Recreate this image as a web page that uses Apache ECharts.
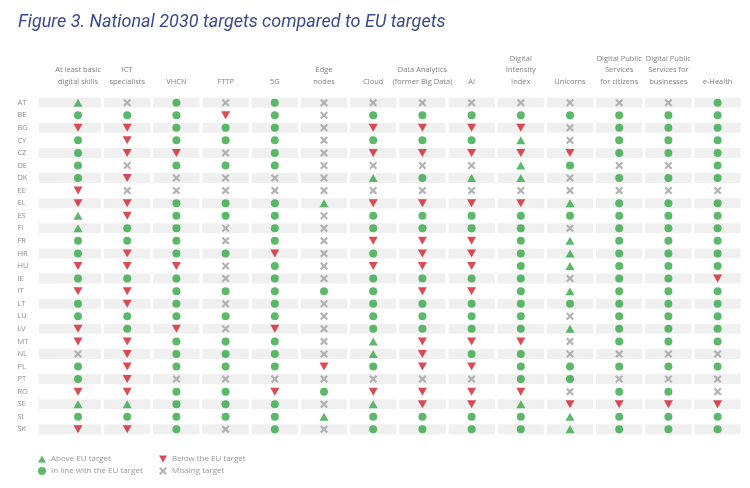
<!DOCTYPE html>
<html>
<head>
<meta charset="utf-8">
<script src="https://cdn.jsdelivr.net/npm/echarts@6/dist/echarts.min.js"></script>
<style>html,body{margin:0;padding:0;background:#fff}#c{width:750px;height:488px}</style>
</head>
<body>
<div id="c"></div>
<script>
// ---- data ----
const countries = ['AT','BE','BG','CY','CZ','DE','DK','EE','EL','ES','FI','FR','HR','HU','IE','IT','LT','LU','LV','MT','NL','PL','PT','RO','SE','SI','SK'];
const indicators = ['At least basic\ndigital skills','ICT\nspecialists','VHCN','FTTP','5G','Edge\nnodes','Cloud','Data Analytics\n(former Big Data)','AI','Digital\nIntensity\nIndex','Unicorns','Digital Public\nServices\nfor citizens','Digital Public\nServices for\nbusinesses','e-Health'];
// U = above EU target, C = in line, D = below, X = missing target (one string per country, one letter per indicator)
const statusRows = [
  'UXCXCXXXXXXXXC', // AT
  'CCCDCXCCCCCCCC', // BE
  'DDCCCXDDDDXCCC', // BG
  'CDCCCXCCCUXCCC', // CY
  'CDDXCXDDDDDCCC', // CZ
  'CXCCCXXXXUCXXC', // DE
  'CDXXXXUCUUXCCC', // DK
  'DXXXXXXXXXXXXX', // EE
  'DDCCCUDDDDUCCC', // EL
  'UDCCCXCCCCCCCC', // ES
  'UCCXCXCCCCXCCC', // FI
  'CCCXCXDDDCUCCC', // FR
  'CDCCDXCDDCUCCC', // HR
  'DDDXCXDDDCUCCC', // HU
  'CCCXCXCCCCXCCD', // IE
  'DDCCCCCDDCUCCC', // IT
  'CDCXCXCCCCCCCC', // LT
  'CCCCCXCCCCXCCC', // LU
  'DCDXDXCCCCUCCC', // LV
  'DDCCCXUDDDXCCC', // MT
  'XDCCCXUDCCXXXX', // NL
  'CDCCCDCDDCCCCC', // PL
  'CDXXXXXXXCCXXX', // PT
  'DDCCDCDDDDXCCX', // RO
  'UUCCCXUDDUDDDD', // SE
  'CCCCCUCCCCUCCC', // SI
  'DDCXCXCCCCUCCC'  // SK
];
const statusNames = { U: 'Above EU target', C: 'In line with the EU target', D: 'Below the EU target', X: 'Missing target' };

// ---- build series data ----
const pts = { U: [], C: [], D: [], X: [] };
statusRows.forEach((row, r) => {
  for (let c = 0; c < row.length; c++) pts[row[c]].push([c, r]);
});
const bands = [];
countries.forEach((_, r) => { if (r % 2 === 0) indicators.forEach((_, c) => bands.push([c, r])); });

const GREEN = '#35a845', RED = '#d21f2d', GREY = '#a0a0a0';
const UP = 'path://M5,0 L10,9 L0,9 Z';
const DOWN = 'path://M0,0 L10,0 L5,9 Z';
const CROSS = 'path://M0,1.9 L1.9,0 L5,3.1 L8.1,0 L10,1.9 L6.9,5 L10,8.1 L8.1,10 L5,6.9 L1.9,10 L0,8.1 L3.1,5 Z';

const chart = echarts.init(document.getElementById('c'), null, { renderer: 'canvas' });
const scatterBase = { type: 'scatter', silent: true, z: 3 };
const legendText = { fontFamily: 'Open Sans', fontSize: 8, color: '#999999', padding: [0, 0, 0, 0] };
chart.setOption({
  animation: false,
  backgroundColor: '#ffffff',
  title: {
    text: 'Figure 3. National 2030 targets compared to EU targets',
    left: 13, top: 8,
    textStyle: { fontFamily: 'Roboto', fontStyle: 'italic', fontWeight: 'normal', fontSize: 18, color: '#3a4a8e' }
  },
  legend: [
    { orient: 'vertical', left: 33, top: 450, itemWidth: 8, itemHeight: 8, itemGap: 4,
      data: [statusNames.U, statusNames.C], selectedMode: false, textStyle: legendText },
    { orient: 'vertical', left: 154, top: 450, itemWidth: 8, itemHeight: 8, itemGap: 4,
      data: [statusNames.D, statusNames.X], selectedMode: false, textStyle: legendText }
  ],
  grid: { left: 53.4, right: 7.8, top: 96.4, bottom: 52.4 },
  xAxis: {
    type: 'category', position: 'top', data: indicators,
    axisLine: { show: false }, axisTick: { show: false }, splitLine: { show: false },
    axisLabel: { interval: 0, margin: 9, fontFamily: 'Open Sans', fontSize: 7.5, lineHeight: 11.5, color: '#7f7f7f', align: 'center' }
  },
  yAxis: {
    type: 'category', inverse: true, data: countries,
    axisLine: { show: false }, axisTick: { show: false }, splitLine: { show: false },
    axisLabel: { interval: 0, margin: 36, align: 'left', fontFamily: 'Open Sans', fontSize: 7.5, color: '#8f8f8f' }
  },
  series: [
    {
      type: 'custom', silent: true, z: 1, clip: false, data: bands,
      renderItem: function (params, api) {
        const p = api.coord([api.value(0), api.value(1)]);
        const s = api.size([1, 1]);
        const h = 10;
        let x = p[0] - s[0] / 2 + 1.5, w = s[0] - 3;
        if (api.value(0) === 0) { x -= 16; w += 16; }
        return { type: 'rect', shape: { x: x, y: p[1] - h / 2, width: w, height: h }, style: { fill: '#f0f0f0' } };
      }
    },
    Object.assign({}, scatterBase, { name: statusNames.U, data: pts.U, symbol: UP, symbolSize: [9, 8], itemStyle: { color: GREEN } }),
    Object.assign({}, scatterBase, { name: statusNames.C, data: pts.C, symbol: 'circle', symbolSize: 8, itemStyle: { color: GREEN } }),
    Object.assign({}, scatterBase, { name: statusNames.D, data: pts.D, symbol: DOWN, symbolSize: [9, 8], itemStyle: { color: RED } }),
    Object.assign({}, scatterBase, { name: statusNames.X, data: pts.X, symbol: CROSS, symbolSize: 8, itemStyle: { color: GREY } })
  ]
});
</script>
</body>
</html>
